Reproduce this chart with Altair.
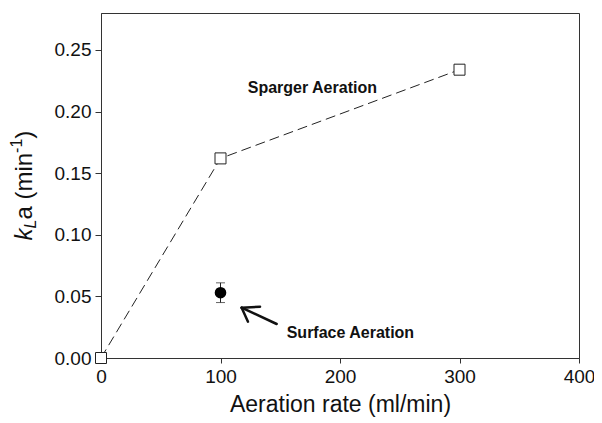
import altair as alt
import pandas as pd

# Sparger aeration series
sparger_rate = [0, 100, 300]
sparger_kla = [0.0, 0.162, 0.234]

# Surface aeration point with error bar
surface_rate = [100]
surface_kla = [0.053]
surface_err = [0.008]

# annotation texts and anchor positions (data units)
ann_text = ["Sparger Aeration", "Surface Aeration"]
ann_x = [122.8, 155.4]
ann_y = [0.2194, 0.020]

# arrow segments (data units): shaft + two wings
arrow_x = [147.0, 117.7, 117.7]
arrow_y = [0.0276, 0.0408, 0.0408]
arrow_x2 = [117.7, 133.1, 123.0]
arrow_y2 = [0.0408, 0.0416, 0.0295]

x_ticks = [0, 100, 200, 300, 400]
y_ticks = [0.0, 0.05, 0.10, 0.15, 0.20, 0.25]

# y title pieces
ytitle_parts = ["k", "L", "a (min", "-1", ")"]

FONT = "Liberation Sans"
W, H = 478, 345

xs = alt.Scale(domain=[0, 400], nice=False)
ys = alt.Scale(domain=[0, 0.28], nice=False)

sp = pd.DataFrame({"rate": sparger_rate, "kla": sparger_kla})
su = pd.DataFrame({"rate": surface_rate, "kla": surface_kla,
                   "lo": [v - e for v, e in zip(surface_kla, surface_err)],
                   "hi": [v + e for v, e in zip(surface_kla, surface_err)]})
ann = pd.DataFrame({"t": ann_text, "x": ann_x, "y": ann_y})
arr = pd.DataFrame({"x": arrow_x, "y": arrow_y, "x2": arrow_x2, "y2": arrow_y2})

xaxis = alt.Axis(values=x_ticks, title="Aeration rate (ml/min)", grid=False, labelFlush=False,
                 tickSize=5, labelPadding=4, labelFontSize=19, titleFontSize=23,
                 titleFontWeight="normal", titlePadding=7, labelFont=FONT, titleFont=FONT,
                 domainColor="#333", tickColor="#333", labelColor="#111", titleColor="#111")
yaxis = alt.Axis(values=y_ticks, format=".2f", title=None, grid=False, labelFlush=False,
                 tickSize=6, labelPadding=4, labelFontSize=19, labelFont=FONT,
                 domainColor="#333", tickColor="#333", labelColor="#111")

line = alt.Chart(sp).mark_line(strokeDash=[10, 5], color="#222", strokeWidth=1).encode(
    x=alt.X("rate:Q", scale=xs, axis=xaxis),
    y=alt.Y("kla:Q", scale=ys, axis=yaxis),
)
squares = alt.Chart(sp).mark_point(shape="square", size=121, filled=True, fill="white",
                                   stroke="#222", strokeWidth=1, opacity=1).encode(
    x="rate:Q", y="kla:Q")

err = alt.Chart(su).mark_rule(color="#222", strokeWidth=1).encode(
    x="rate:Q", y="lo:Q", y2="hi:Q")
cap_lo = alt.Chart(su).mark_tick(orient="horizontal", color="#222", size=9, thickness=1).encode(
    x="rate:Q", y="lo:Q")
cap_hi = alt.Chart(su).mark_tick(orient="horizontal", color="#222", size=9, thickness=1).encode(
    x="rate:Q", y="hi:Q")
dot = alt.Chart(su).mark_point(shape="circle", size=135, filled=True, color="black", opacity=1).encode(
    x="rate:Q", y="kla:Q")

texts = alt.Chart(ann).mark_text(font=FONT, fontSize=16, fontWeight="bold", align="left",
                                 baseline="middle", color="#111").encode(
    x="x:Q", y="y:Q", text="t:N")

arrow = alt.Chart(arr).mark_rule(color="#111", strokeWidth=2.5, strokeCap="round").encode(
    x="x:Q", y="y:Q", x2="x2:Q", y2="y2:Q")

# y-axis title built from pieces (rotated)
base_x = -69
start_y = 227.5
sizes = [24, 16, 24, 16, 24]
italics = ["italic", "italic", "normal", "normal", "normal"]
widths = [12.0, 8.9, 66.7, 14.2, 8.0]
shifts = [0, 4, 0, -10, 0]
ytitle = []
pos = start_y
for t, s, st, w, sh in zip(ytitle_parts, sizes, italics, widths, shifts):
    ytitle.append(
        alt.Chart(alt.Data(values=[{}])).mark_text(
            font=FONT, fontSize=s, fontStyle=st, angle=270, align="left",
            baseline="alphabetic", color="#111", text=t
        ).encode(x=alt.value(base_x + sh), y=alt.value(pos))
    )
    pos -= w

chart = alt.layer(line, squares, err, cap_lo, cap_hi, dot, texts, arrow, *ytitle).properties(
    width=W, height=H,
    padding={"left": 93, "top": 5, "right": 15, "bottom": 60},
    autosize=alt.AutoSizeParams(type="none"),
).configure_view(stroke="#333", strokeWidth=1)

chart.save("out.html", embed_options={"renderer": "svg", "actions": False})
